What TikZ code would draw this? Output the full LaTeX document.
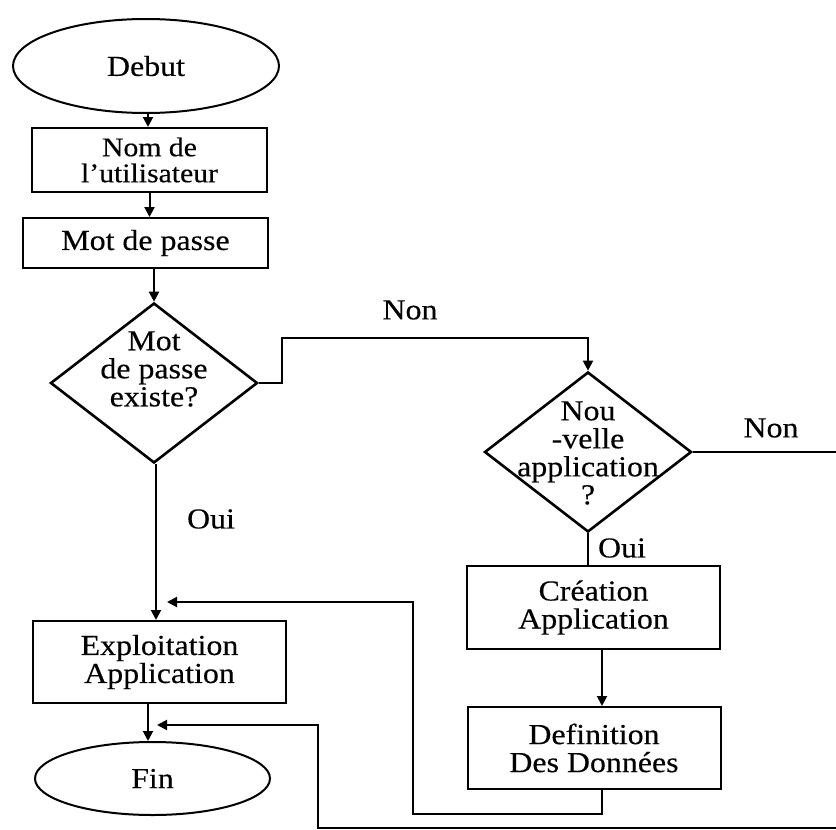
\documentclass[tikz,border=0pt]{standalone}
\usepackage{fontspec}
\setmainfont{Liberation Serif}[FakeStretch=1.1,FakeBold=0.3]
\usetikzlibrary{shapes.geometric,arrows.meta}
\begin{document}
\begin{tikzpicture}[x=1pt,y=-1pt,
  every node/.style={font=\fontsize{29pt}{28pt}\selectfont, inner sep=0pt, align=center},
  box/.style={draw, rectangle, line width=2pt},
  term/.style={draw, ellipse, line width=2pt},
  decision/.style={draw, diamond, line width=2.6pt, minimum width=207pt, minimum height=160pt},
  conn/.style={line width=2pt},
  arr/.style={conn, -{Triangle[length=10pt,width=10pt]}}
]
\useasboundingbox (0,0) rectangle (836,830);

% nodes
\node[term, minimum width=266pt, minimum height=94pt] (debut) at (146,66) {Debut};
\node[box, minimum width=235pt, minimum height=64pt, font=\fontsize{27pt}{26pt}\selectfont] (nom) at (149.5,160) {Nom de\\l’utilisateur};
\node[box, minimum width=245pt, minimum height=50pt] (mdp) at (145.5,243) {Mot de passe};
\node[decision] (d1) at (154,383) {};
\node (d1t) at (154,369) {Mot\\de passe\\existe?};
\node[decision] (d2) at (588,452) {};
\node (d2t) at (588,453) {Nou\\-velle\\application\\?};
\node[box, minimum width=253pt, minimum height=83pt] (crea) at (593.5,607.5) {Création\\Application};
\node[box, minimum width=253pt, minimum height=82pt] (def) at (594,748) {Definition\\Des Données};
\node[box, minimum width=253pt, minimum height=82pt] (exp) at (159.5,662) {Exploitation\\Application};
\node[term, minimum width=235pt, minimum height=73pt] (fin) at (152.5,778.5) {Fin};

% labels
\node (non1) at (410,310) {Non};
\node (non2) at (771,428) {Non};
\node (oui1) at (211,519) {Oui};
\node (oui2) at (622,548) {Oui};

% free ends
\coordinate (re) at (836,452);
\coordinate (fb1) at (413,602);
\coordinate (ex1) at (167,602);
\coordinate (rb) at (836,828);
\coordinate (fb2) at (318,725);
\coordinate (fn) at (157,725);

% connectors
\draw[arr] ([xshift=2pt]debut.south) -- ([xshift=-1.5pt]nom.north);
\draw[arr] (nom.south) -- (nom.south |- mdp.north);
\draw[arr] (d1.north |- mdp.south) -- (d1.north);
\draw[arr] (d1.east) -- ++(23,0) -- ++(0,-45) -| (d2.north);
\draw[conn] (d2.east) -- (re);
\draw[conn] (d2.south) -- (d2.south |- crea.north);
\draw[arr] ([xshift=8.5pt]crea.south) -- ([xshift=8.5pt]crea.south |- def.north);
\draw[arr] ([xshift=8pt]def.south) -- ++(0,24) -| (fb1) -- (ex1);
\draw[arr] ([xshift=2pt]d1.south) -- ([xshift=2pt]d1.south |- exp.north);
\draw[arr] ([xshift=-11.5pt]exp.south) -- ([xshift=-11.5pt]exp.south |- fin.north);
\draw[arr] (rb) -| (fb2) -- (fn);
\end{tikzpicture}
\end{document}
